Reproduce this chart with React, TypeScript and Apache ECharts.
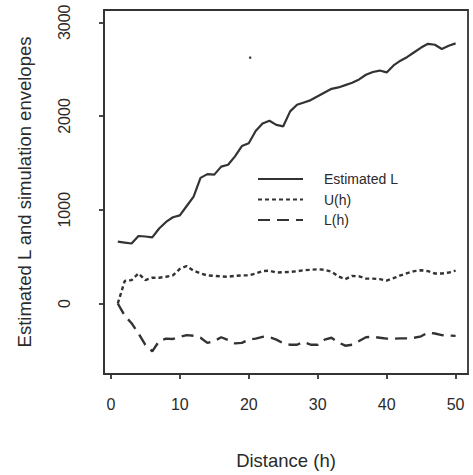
import React, { useEffect, useRef } from "react";
import * as echarts from "echarts";

const distances = [
  1, 2, 3, 4, 5, 6, 7, 8, 9, 10, 11, 12, 13, 14, 15, 16, 17, 18, 19, 20, 21, 22, 23, 24, 25,
  26, 27, 28, 29, 30, 31, 32, 33, 34, 35, 36, 37, 38, 39, 40, 41, 42, 43, 44, 45, 46, 47, 48, 49, 50,
];
const estimatedL = [
  660, 650, 640, 720, 715, 705, 800, 870, 920, 940, 1040, 1140, 1340, 1380, 1375, 1460, 1480, 1570, 1680, 1710,
  1840, 1920, 1950, 1905, 1890, 2050, 2120, 2145, 2170, 2210, 2250, 2290, 2305, 2330, 2355, 2390, 2440, 2470, 2485, 2465,
  2540, 2590, 2630, 2680, 2730, 2770, 2760, 2715, 2750, 2775,
];
const upperU = [
  0, 240, 250, 320, 250, 275, 275, 285, 300, 370, 400, 350, 320, 300, 295, 290, 285, 295, 300, 300,
  320, 345, 350, 330, 335, 336, 345, 355, 360, 365, 360, 340, 290, 260, 295, 290, 265, 265, 260, 245,
  270, 300, 325, 345, 355, 345, 320, 320, 330, 350,
];
const lowerL = [
  0, -130, -210, -320, -440, -510, -400, -375, -378, -355, -337, -344, -365, -420, -400, -360, -390, -425, -420, -385,
  -375, -355, -360, -385, -425, -440, -440, -410, -440, -440, -385, -365, -415, -450, -440, -400, -360, -355, -365, -375,
  -375, -372, -372, -365, -350, -310, -320, -337, -342, -345,
];
const xTicks = [0, 10, 20, 30, 40, 50];
const yTicks = [0, 1000, 2000, 3000];
const seriesNames = ["Estimated L", "U(h)", "L(h)"];

const pair = (vals: number[]) => distances.map((d, i) => [d, vals[i]]);

export default function App() {
  const ref = useRef<HTMLDivElement>(null);
  useEffect(() => {
    if (!ref.current) return;
    const chart = echarts.init(ref.current, undefined, { renderer: "svg" });
    const font = "Liberation Sans, Arial, sans-serif";
    const ink = "#2a2a2a";
    const frame = { color: "#333333", width: 1.8 };
    const lineBase = { type: "line", symbol: "none", showSymbol: false, smooth: false };
    chart.setOption({
      animation: false,
      grid: {
        left: 104,
        right: 5,
        top: 10,
        bottom: 100,
        show: true,
        borderColor: "#333333",
        borderWidth: 1.8,
      },
      legend: {
        orient: "vertical",
        left: 257,
        top: 172,
        padding: 0,
        itemWidth: 45,
        itemHeight: 14,
        itemGap: 6.5,
        selectedMode: false,
        data: seriesNames,
        itemStyle: { opacity: 0 },
        textStyle: { fontFamily: font, fontSize: 14, color: ink, padding: [0, 0, 0, 16] },
      },
      xAxis: {
        type: "value",
        min: -1,
        max: 51.8,
        name: "Distance (h)",
        nameLocation: "middle",
        nameGap: 77,
        nameTextStyle: { fontFamily: font, fontSize: 18.5, color: ink },
        splitLine: { show: false },
        axisLine: { show: true, onZero: false, lineStyle: frame },
        axisTick: { show: true, inside: false, length: 5, customValues: xTicks, lineStyle: frame },
        axisLabel: {
          customValues: xTicks,
          margin: 22,
          fontFamily: font,
          fontSize: 16,
          color: ink,
          formatter: (v: number) => String(v),
        },
      },
      yAxis: {
        type: "value",
        min: -752,
        max: 3131,
        name: "Estimated L and simulation envelopes",
        nameLocation: "middle",
        nameGap: 70,
        nameRotate: 90,
        nameTextStyle: { fontFamily: font, fontSize: 18.5, color: ink },
        splitLine: { show: false },
        axisLine: { show: true, onZero: false, lineStyle: frame },
        axisTick: { show: true, inside: false, length: 5, customValues: yTicks, lineStyle: frame },
        axisLabel: {
          customValues: yTicks,
          rotate: 90,
          margin: 32,
          fontFamily: font,
          fontSize: 16,
          color: ink,
          formatter: (v: number) => String(v),
        },
      },
      series: [
        {
          ...lineBase,
          name: seriesNames[0],
          data: pair(estimatedL),
          lineStyle: { color: "#333333", width: 2.2, type: "solid" },
          itemStyle: { color: "#333333" },
        },
        {
          ...lineBase,
          name: seriesNames[1],
          data: pair(upperU),
          lineStyle: { color: "#333333", width: 2.4, type: [4, 3] },
          itemStyle: { color: "#333333" },
        },
        {
          ...lineBase,
          name: seriesNames[2],
          data: pair(lowerL),
          lineStyle: { color: "#333333", width: 2.4, type: [12, 7] },
          itemStyle: { color: "#333333" },
        },
      ],
    });
    const speck = chart.convertToPixel({ gridIndex: 0 }, [20.2, 2623]) as number[];
    chart.setOption({
      graphic: [
        { type: "circle", silent: true, shape: { cx: speck[0], cy: speck[1], r: 1.3 }, style: { fill: "#444" } },
      ],
    });
    return () => chart.dispose();
  }, []);
  return <div ref={ref} style={{ width: 473, height: 475, position: "absolute", left: 0, top: 0 }} />;
}
